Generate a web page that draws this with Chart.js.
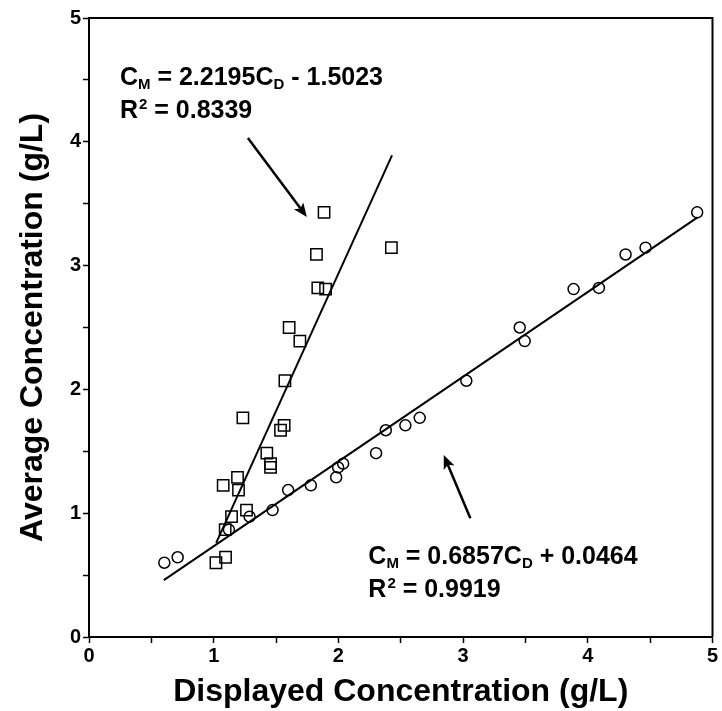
<!DOCTYPE html>
<html>
<head>
<meta charset="utf-8">
<script src="https://cdn.jsdelivr.net/npm/chart.js@4.4.1/dist/chart.umd.min.js"></script>
<style>
  html, body { margin: 0; padding: 0; background: #fff; }
  #wrap { width: 722px; height: 711px; position: relative; }
</style>
</head>
<body>
<div id="wrap"><canvas id="chart"></canvas></div>
<script>
// Average (measured) concentration, shared by both devices
const avgConc = [3.43, 3.145, 3.09, 2.82, 2.81, 2.50, 2.39, 2.07, 1.77, 1.71, 1.67,
                 1.485, 1.40, 1.37, 1.29, 1.225, 1.187, 1.025, 0.972, 0.867, 0.644, 0.600];
// Displayed concentration, squares
const squareX = [1.885, 2.425, 1.824, 1.835, 1.897, 1.605, 1.691, 1.571, 1.234, 1.565, 1.536,
                 1.426, 1.456, 1.456, 1.191, 1.076, 1.199, 1.263, 1.143, 1.092, 1.095, 1.018];
// Displayed concentration, circles
const circleX = [4.877, 4.463, 4.303, 4.089, 3.886, 3.454, 3.494, 3.026, 2.652, 2.537, 2.38,
                 2.302, 2.038, 1.998, 1.982, 1.779, 1.597, 1.472, 1.288, 1.122, 0.711, 0.604];

// Trend lines (end points as drawn)
const fit1X = [1.02, 2.43];
const fit1Y = [0.76, 3.89];
const fit2X = [0.60, 4.88];
const fit2Y = [0.46, 3.39];

const xTicks = [0, 1, 2, 3, 4, 5];
const yTicks = [0, 1, 2, 3, 4, 5];

// Equation labels: [text, 0 normal / 1 subscript / 2 superscript]
const eq1 = [['C', 0], ['M', 1], [' = 2.2195', 0], ['C', 0], ['D', 1], [' - 1.5023', 0]];
const r1 = [['R', 0], ['2', 2], [' = 0.8339', 0]];
const eq2 = [['C', 0], ['M', 1], [' = 0.6857', 0], ['C', 0], ['D', 1], [' + 0.0464', 0]];
const r2 = [['R', 0], ['2', 2], [' = 0.9919', 0]];

const FONT = 'Arial, "Liberation Sans", Helvetica, sans-serif';

const toPts = (xs, ys) => xs.map((x, i) => ({ x: x, y: ys[i] }));

// Frame, equations and arrows (placed in data coordinates)
const notes = {
    id: 'notes',
    afterDatasetsDraw(chart) {
        const { ctx, chartArea, scales: { x, y } } = chart;
        ctx.save();

        ctx.strokeStyle = '#000';
        ctx.fillStyle = '#000';
        ctx.lineWidth = 2;
        ctx.beginPath();
        ctx.moveTo(chartArea.left, chartArea.top);
        ctx.lineTo(chartArea.right, chartArea.top);
        ctx.lineTo(chartArea.right, chartArea.bottom);
        ctx.stroke();

        function rich(parts, vx, vy) {
            let px = x.getPixelForValue(vx);
            const py = y.getPixelForValue(vy);
            ctx.textBaseline = 'alphabetic';
            ctx.textAlign = 'left';
            parts.forEach(([t, mode]) => {
                if (mode === 0) {
                    ctx.font = 'bold 25px ' + FONT;
                    ctx.fillText(t, px, py);
                } else if (mode === 1) {
                    ctx.font = 'bold 15px ' + FONT;
                    ctx.fillText(t, px, py + 4);
                } else {
                    ctx.font = 'bold 15px ' + FONT;
                    ctx.fillText(t, px + 1, py - 9);
                }
                px += ctx.measureText(t).width + (mode === 2 ? 1 : 0);
            });
        }
        rich(eq1, 0.248, 4.459);
        rich(r1, 0.248, 4.192);
        rich(eq2, 2.24, 0.590);
        rich(r2, 2.24, 0.323);

        function arrow(x0, y0, x1, y1) {
            const ax = x.getPixelForValue(x0), ay = y.getPixelForValue(y0);
            const bx = x.getPixelForValue(x1), by = y.getPixelForValue(y1);
            const ang = Math.atan2(by - ay, bx - ax);
            const head = 15;
            ctx.lineWidth = 2.5;
            ctx.beginPath();
            ctx.moveTo(ax, ay);
            ctx.lineTo(bx - Math.cos(ang) * head * 0.7, by - Math.sin(ang) * head * 0.7);
            ctx.stroke();
            ctx.beginPath();
            ctx.moveTo(bx, by);
            ctx.lineTo(bx - head * Math.cos(ang - 0.4), by - head * Math.sin(ang - 0.4));
            ctx.lineTo(bx - head * 0.7 * Math.cos(ang), by - head * 0.7 * Math.sin(ang));
            ctx.lineTo(bx - head * Math.cos(ang + 0.4), by - head * Math.sin(ang + 0.4));
            ctx.closePath();
            ctx.fill();
        }
        arrow(1.274, 4.031, 1.747, 3.393);
        arrow(3.058, 0.959, 2.845, 1.470);

        ctx.restore();
    }
};

const halfSteps = s => {
    s.ticks = [];
    for (let i = 0; i <= 10; i++) s.ticks.push({ value: i / 2 });
};

new Chart(document.getElementById('chart'), {
    type: 'scatter',
    data: {
        datasets: [
            {
                label: 'fit1',
                type: 'line',
                data: toPts(fit1X, fit1Y),
                borderColor: '#000',
                borderWidth: 2,
                pointRadius: 0,
                fill: false
            },
            {
                label: 'fit2',
                type: 'line',
                data: toPts(fit2X, fit2Y),
                borderColor: '#000',
                borderWidth: 2,
                pointRadius: 0,
                fill: false
            },
            {
                label: 'squares',
                data: toPts(squareX, avgConc),
                pointStyle: 'rect',
                pointRadius: 8,
                borderColor: '#000',
                borderWidth: 1.5,
                backgroundColor: 'rgba(255,255,255,0)'
            },
            {
                label: 'circles',
                data: toPts(circleX, avgConc),
                pointStyle: 'circle',
                pointRadius: 5.5,
                borderColor: '#000',
                borderWidth: 1.5,
                backgroundColor: 'rgba(255,255,255,0)'
            }
        ]
    },
    options: {
        responsive: true,
        maintainAspectRatio: false,
        animation: false,
        layout: { padding: { top: 18, right: 9, left: 0, bottom: 0 } },
        plugins: {
            legend: { display: false },
            tooltip: { enabled: false }
        },
        scales: {
            x: {
                type: 'linear',
                min: 0,
                max: 5,
                afterFit: s => { s.height = 74; },
                afterBuildTicks: halfSteps,
                ticks: {
                    autoSkip: false,
                    maxRotation: 0,
                    padding: 1,
                    color: '#000',
                    font: { family: FONT, size: 20, weight: 'bold' },
                    callback: v => xTicks.includes(v) ? v : ''
                },
                grid: { drawOnChartArea: false, drawTicks: true, tickLength: 6, color: '#000', tickWidth: 1.5 },
                border: { display: true, color: '#000', width: 2 },
                title: {
                    display: true,
                    text: 'Displayed Concentration (g/L)',
                    color: '#000',
                    font: { family: FONT, size: 32, weight: 'bold' },
                    padding: { top: 0, bottom: 0 }
                }
            },
            y: {
                type: 'linear',
                min: 0,
                max: 5,
                afterFit: s => { s.width = 89; },
                afterBuildTicks: halfSteps,
                ticks: {
                    autoSkip: false,
                    padding: 2,
                    color: '#000',
                    font: { family: FONT, size: 20, weight: 'bold' },
                    callback: v => yTicks.includes(v) ? v : ''
                },
                grid: { drawOnChartArea: false, drawTicks: true, tickLength: 6, color: '#000', tickWidth: 1.5 },
                border: { display: true, color: '#000', width: 2 },
                title: {
                    display: true,
                    text: 'Average Concentration (g/L)',
                    color: '#000',
                    font: { family: FONT, size: 32, weight: 'bold' },
                    padding: { top: 14, bottom: 0 }
                }
            }
        }
    },
    plugins: [notes]
});
</script>
</body>
</html>
